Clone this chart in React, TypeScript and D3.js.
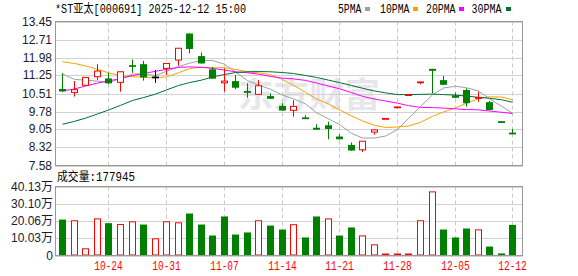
import React from 'react';
import * as d3 from 'd3';

const title = '*ST亚太[000691] 2025-12-12 15:00';
const volTitle = '成交量:177945';

const dates = [
  '10-20','10-21','10-22','10-23','10-24',
  '10-27','10-28','10-29','10-30','10-31',
  '11-03','11-04','11-05','11-06','11-07',
  '11-10','11-11','11-12','11-13','11-14',
  '11-17','11-18','11-19','11-20','11-21',
  '11-24','11-25','11-26','11-27','11-28',
  '12-01','12-02','12-03','12-04','12-05',
  '12-08','12-09','12-10','12-11','12-12',
];

const opens = [10.70,10.56,10.85,11.20,11.13,10.97,11.67,11.71,11.17,11.54,11.88,12.96,12.04,11.50,10.95,11.02,10.59,10.48,10.41,10.01,9.83,9.52,9.12,9.22,8.76,8.42,8.22,8.94,9.48,9.95,10.45,10.97,11.52,11.06,10.44,10.66,10.33,10.16,9.35,8.89];
const highs = [11.34,11.02,11.18,11.71,11.36,11.41,11.90,11.84,11.47,11.75,12.36,12.97,12.19,11.60,11.54,11.27,10.93,11.06,10.52,10.12,10.25,9.63,9.26,9.37,8.86,8.52,8.58,9.04,9.48,9.95,10.45,10.97,11.52,11.23,10.55,10.73,10.59,10.21,9.35,9.07];
const lows = [10.58,10.39,10.84,11.06,10.89,10.59,11.36,11.04,10.95,11.27,11.65,12.15,11.73,11.11,10.59,10.69,10.34,10.47,10.29,9.81,9.57,9.48,9.03,8.65,8.64,8.18,8.13,8.84,9.48,9.95,10.45,10.89,10.52,10.86,10.33,9.98,10.18,9.83,9.35,8.88];
const closes = [10.60,10.67,11.17,11.43,10.93,11.40,11.60,11.17,11.17,11.74,12.36,12.33,11.74,11.12,11.02,10.75,10.57,10.83,10.30,9.82,9.99,9.49,9.04,9.07,8.65,8.19,8.57,9.03,9.48,9.95,10.45,10.97,11.44,10.87,10.34,10.12,10.34,9.84,9.35,8.88];
// volume in 万
const volumes = [20.9,20.2,3.9,21.3,18.8,18.0,19.6,18.0,9.7,19.6,19.0,24.4,18.0,11.6,22.7,12.2,13.4,20.2,17.4,15.1,17.9,10.5,22.7,21.3,11.6,16.3,11.4,6.2,0.6,0.6,0.6,20.2,37.0,15.1,10.5,15.7,14.9,5.2,1.2,17.8];

const ma5 = [11.31,11.09,11.06,11.02,10.96,11.12,11.31,11.31,11.25,11.42,11.61,11.75,11.86,11.86,11.71,11.39,11.04,10.86,10.69,10.45,10.30,10.09,9.73,9.48,9.25,8.89,8.70,8.70,8.78,9.04,9.50,9.98,10.46,10.74,10.81,10.75,10.62,10.30,10.00,9.71];
const ma10 = [11.81,11.74,11.64,11.50,11.36,11.25,11.20,11.18,11.16,11.19,11.36,11.53,11.59,11.56,11.57,11.50,11.40,11.36,11.28,11.09,10.85,10.56,10.29,10.09,9.85,9.60,9.40,9.22,9.13,9.15,9.19,9.34,9.58,9.76,9.93,10.12,10.30,10.38,10.37,10.26];
const ma20 = [10.62,10.70,10.82,10.94,11.03,11.12,11.25,11.33,11.42,11.50,11.58,11.60,11.58,11.54,11.47,11.40,11.36,11.30,11.21,11.14,11.11,11.05,10.94,10.82,10.71,10.55,10.40,10.29,10.21,10.12,10.02,9.95,9.94,9.92,9.89,9.86,9.85,9.80,9.75,9.70];
const ma30 = [9.26,9.38,9.51,9.68,9.84,10.03,10.23,10.35,10.49,10.66,10.84,10.96,11.06,11.19,11.29,11.37,11.40,11.41,11.40,11.37,11.33,11.25,11.17,11.06,10.96,10.84,10.73,10.62,10.54,10.47,10.47,10.48,10.49,10.47,10.45,10.41,10.36,10.32,10.26,10.16];

const priceTicks = [13.45,12.71,11.98,11.25,10.51,9.78,9.05,8.32,7.58];
const priceTickLabels = ['13.45','12.71','11.98','11.25','10.51','9.78','9.05','8.32','7.58'];
const volTicks = [0,10.03,20.06,30.10,40.13];
const volTickLabels = ['0','10.03万','20.06万','30.10万','40.13万'];
const dateTicks = ['10-24','10-31','11-07','11-14','11-21','11-28','12-05','12-12'];
const legendNames = ['5PMA','10PMA','20PMA','30PMA'];

const UP = '#ff0000';
const DOWN = '#008000';
const FLAT = '#000000';
const MA_COLORS = ['#a0a0a0', '#f5a300', '#ff00ff', '#006f35'];

const W = 578, H = 276;
const L = 55.5, R = 522.5;
const PT = 21.5, PB = 165.5;
const VT = 186.5, VB = 255.5;
const MONO = '"Liberation Mono", "DejaVu Sans Mono", "Noto Sans CJK SC", monospace';
const SANS = '"Liberation Sans", Arial, "Noto Sans CJK SC", sans-serif';

export default function App() {
  const x = d3.scaleBand<string>().domain(dates).range([56.5, 518.1]).padding(0);
  const cx = (i: number) => Math.round((x(dates[i]) as number) + x.bandwidth() / 2);
  const y = d3.scaleLinear().domain([7.58, 13.45]).range([PB, PT]);
  const yv = d3.scaleLinear().domain([0, 40.13]).range([VB, VT]);

  const candleColor = (i: number) => {
    if (closes[i] > opens[i]) return UP;
    if (closes[i] < opens[i]) return DOWN;
    if (i === 0) return FLAT;
    if (closes[i] > closes[i - 1]) return UP;
    if (closes[i] < closes[i - 1]) return DOWN;
    return FLAT;
  };
  const volUp = (i: number) => (i === 0 ? closes[i] >= opens[i] : closes[i] >= closes[i - 1]);

  const line = d3.line<number>().x((_, i) => cx(i) + 0.5).y((d) => y(d));
  const mas = [ma5, ma10, ma20, ma30];

  const tickIdx = dateTicks.map((t) => dates.indexOf(t));
  const legendX = [338, 380, 426, 471.5];
  const legendLen = [23.5, 29.5, 29.5, 30];
  const legendSqX = [365, 413, 459, 506];

  return (
    <svg width={W} height={H} style={{ position: 'absolute', left: 0, top: 0, display: 'block', background: '#fff' }}>
      <rect x={0} y={0} width={W} height={H} fill="#fff" />
      {/* title */}
      <text x={55} y={13} fontFamily={MONO} fontSize={12} fill="#000" textLength={191} lengthAdjust="spacingAndGlyphs">{title}</text>
      {legendNames.map((n, k) => (
        <g key={n}>
          <text x={legendX[k]} y={13} fontFamily={MONO} fontSize={12} fill="#000" textLength={legendLen[k]} lengthAdjust="spacingAndGlyphs">{n}</text>
          <rect x={legendSqX[k]} y={7} width={5} height={4} fill={MA_COLORS[k]} />
        </g>
      ))}

      {/* watermark */}
      <text x={238} y={107} fontFamily={SANS} fontSize={34} fontWeight="bold" fill="#e6e6ec" textLength={142} lengthAdjust="spacingAndGlyphs">东方财富</text>

      {/* price grid */}
      {priceTicks.map((t, k) => (
        <g key={'pt' + k}>
          <line x1={L} x2={R} y1={Math.round(y(t)) + 0.5} y2={Math.round(y(t)) + 0.5} stroke="#d2d2d2" strokeWidth={1} />
          <text x={52} y={y(t)} dominantBaseline="central" textAnchor="end" fontFamily={SANS} fontSize={12} fill="#1a1a33">{priceTickLabels[k]}</text>
        </g>
      ))}
      {/* volume grid */}
      {volTicks.map((t, k) => (
        <g key={'vt' + k}>
          <line x1={L} x2={R} y1={Math.round(yv(t)) + 0.5} y2={Math.round(yv(t)) + 0.5} stroke="#d2d2d2" strokeWidth={1} />
          <text x={53} y={yv(t)} dominantBaseline="central" textAnchor="end" fontFamily={SANS} fontSize={12} fill="#1a1a33">{volTickLabels[k]}</text>
        </g>
      ))}
      {/* vertical dashed grid + date labels */}
      {tickIdx.map((i, k) => (
        <g key={'dx' + k}>
          <line x1={cx(i) + 0.5} x2={cx(i) + 0.5} y1={PT} y2={PB} stroke="#c8c8c8" strokeDasharray="4,3" />
          <line x1={cx(i) + 0.5} x2={cx(i) + 0.5} y1={VT} y2={VB} stroke="#c8c8c8" strokeDasharray="4,3" />
          <text x={cx(i) + 0.5} y={270} textAnchor="middle" fontFamily={MONO} fontSize={12} fill="#ff0000" textLength={28.5} lengthAdjust="spacingAndGlyphs">{dateTicks[k]}</text>
        </g>
      ))}

      {/* moving averages */}
      {mas.map((m, k) => (
        <path key={'ma' + k} d={line(m) || ''} fill="none" stroke={MA_COLORS[k]} strokeWidth={1} />
      ))}

      {/* candles */}
      {dates.map((d, i) => {
        const c = cx(i);
        const col = candleColor(i);
        const yo = y(opens[i]);
        const yc = y(closes[i]);
        const top = Math.min(yo, yc);
        const bot = Math.max(yo, yc);
        const hollow = col === UP;
        const h = bot - top;
        return (
          <g key={'c' + d}>
            <line x1={c + 0.5} x2={c + 0.5} y1={y(highs[i])} y2={y(lows[i])} stroke={col} strokeWidth={1} />
            {h < 1.5 ? (
              <rect x={c - 3} y={(top + bot) / 2 - 0.9} width={7} height={1.8} fill={col} />
            ) : hollow ? (
              <rect x={c - 2.5} y={top} width={6} height={h} fill="#fff" stroke={col} strokeWidth={1} />
            ) : (
              <rect x={c - 3} y={top} width={7} height={h} fill={col} />
            )}
          </g>
        );
      })}

      {/* volumes */}
      {dates.map((d, i) => {
        const c = cx(i);
        const up = volUp(i);
        const yt = yv(volumes[i]);
        return up ? (
          <rect key={'v' + d} x={c - 2.5} y={Math.min(yt, VB - 1.5)} width={6} height={Math.max(VB - 0.5 - yt, 1)} fill="#fff" stroke={UP} strokeWidth={1} />
        ) : (
          <rect key={'v' + d} x={c - 3} y={yt} width={7} height={VB - yt} fill={DOWN} />
        );
      })}

      {/* borders */}
      <rect x={L} y={PT} width={R - L} height={PB - PT} fill="none" stroke="#999" strokeWidth={1} />
      <rect x={L} y={VT} width={R - L} height={VB - VT} fill="none" stroke="#999" strokeWidth={1} />

      <text x={57} y={181} fontFamily={MONO} fontSize={12} fill="#000" textLength={78} lengthAdjust="spacingAndGlyphs">{volTitle}</text>
    </svg>
  );
}
